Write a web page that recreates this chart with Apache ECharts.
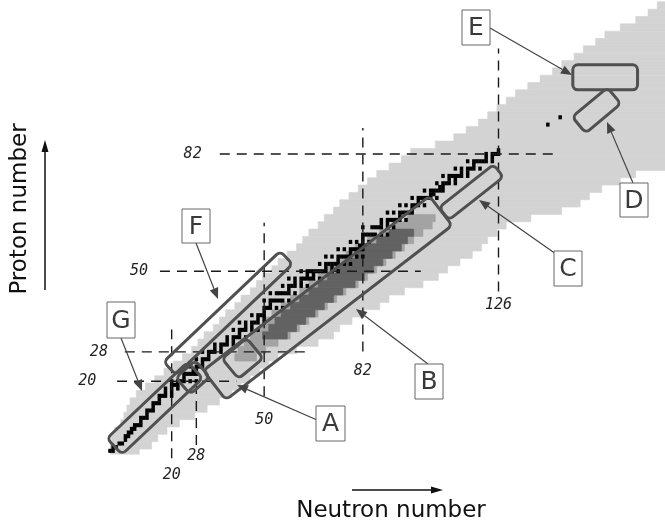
<!DOCTYPE html>
<html>
<head>
<meta charset="utf-8">
<script src="https://cdn.jsdelivr.net/npm/echarts@6/dist/echarts.min.js"></script>
<style>
  html, body { margin: 0; padding: 0; background: #fff; }
  #chart { width: 665px; height: 524px; }
</style>
</head>
<body>
<div id="chart"></div>
<script>
// rows of the chart, two proton numbers per row
const rowZ = [0,2,4,6,8,10,12,14,16,18,20,22,24,26,28,30,32,34,36,38,40,42,44,46,48,50,52,54,56,58,60,
  62,64,66,68,70,72,74,76,78,80,82,84,86,88,90,92,94,96,98,100,102,104,106,108,110,112,114,116,118,120,122];
// light gray: lowest and highest neutron number in each row
const knownNLow = [0,0,1,2,4,5,6,7,9,12,15,18,21,24,27,29,31,34,36,38,41,43,46,48,50,53,55,58,61,63,65,
  68,70,73,75,78,81,84,87,91,95,98,106,112,116,120,123,126,129,132,136,140,144,147,151,154,158,161,166,171,175,178];
const knownNHigh = [9,13,15,18,22,27,31,35,39,42,45,48,51,54,60,67,72,74,78,82,87,90,95,101,106,109,113,117,120,122,125,
  128,136,146,152,155,159,165,170,185,185,185,185,185,185,185,185,185,185,185,185,185,185,185,185,185,185,185,185,185,185,185];

// medium gray band
const midZ = [26,28,30,32,34,36,38,40,42,44,46,48,50,52,54,56,58,60,62,64];
const midNLow = [41,42,44,46,49,51,53,56,59,62,65,68,71,74,77,80,84,88,92,97];
const midNHigh = [47,50,54,58,61,64,67,70,73,76,80,83,86,89,92,95,98,101,104,105];

// dark gray band
const darkZ = [32,34,36,38,40,42,44,46,48,50,52,54,56,58,60];
const darkNLow = [50,52,54,56,59,62,65,68,71,74,77,80,83,87,91];
const darkNHigh = [57,60,63,66,69,72,75,79,82,85,88,91,94,96,98];

// stable nuclei: proton number and its neutron numbers
const stableZ = [1,2,3,4,5,6,7,8,9,10,11,12,13,14,15,16,17,18,19,20,21,22,23,24,25,26,27,28,29,30,
  31,32,33,34,35,36,37,38,39,40,41,42,44,45,46,47,48,49,50,51,52,53,54,55,56,57,58,59,60,
  62,63,64,65,66,67,68,69,70,71,72,73,74,75,76,77,78,79,80,81,82,83,90,92];
const stableN = [[0,1],[1,2],[3,4],[5],[5,6],[6,7],[7,8],[8,9,10],[10],[10,11,12],[12],[12,13,14],[14],
  [14,15,16],[16],[16,17,18,20],[18,20],[18,20,22],[20,21,22],[20,22,23,24,26,28],[24],[24,25,26,27,28],
  [27,28],[26,28,29,30],[30],[28,30,31,32],[32],[30,32,33,34,36],[34,36],[34,36,37,38,40],[38,40],
  [38,40,41,42,44],[42],[40,42,43,44,46,48],[44,46],[42,44,46,47,48,50],[48,50],[46,48,49,50],[50],
  [50,51,52,54,56],[52],[50,52,53,54,55,56,58],[52,54,55,56,57,58,60],[58],[56,58,59,60,62,64],[60,62],
  [58,60,62,63,64,65,66,68],[64,66],[62,64,65,66,67,68,69,70,72,74],[70,72],[68,70,71,72,73,74,76,78],
  [74],[70,72,74,75,76,77,78,80,82],[78],[74,76,78,79,80,81,82],[81,82],[78,80,82,84],[82],
  [82,83,84,85,86,88,90],[82,85,86,87,88,90,92],[88,90],[88,90,91,92,93,94,96],[94],
  [90,92,94,95,96,97,98],[98],[94,96,98,99,100,102],[100],[98,100,101,102,103,104,106],[104,105],
  [102,104,105,106,107,108],[107,108],[106,108,109,110,112],[110,112],[108,110,111,112,113,114,116],
  [114,116],[112,114,116,117,118,120],[118],[116,118,119,120,121,122,124],[122,124],[122,124,125,126],
  [126],[142],[146]];

// magic numbers
const magicN = [20, 28, 50, 82, 126];
const magicNZFrom = [-1, 2.6, 15.9, 28.1, 44.5];
const magicNZTo = [34.1, 18.9, 63.2, 89.1, 110.8];
const magicNLabelZ = [-5.6, -0.4, 9.4, 22.7, 40.7];
const magicZ = [20, 28, 50, 82];
const magicZNFrom = [2.3, 4.8, 16.2, 35.6];
const magicZNTo = [41, 64.6, 100.8, 144.8];
const magicZLabelN = [-7.4, -3.6, 9.4, 26.8];

// regions: end points (N, Z) of each outlined box
const regionNames = ['G', 'F', 'G2', 'A', 'B', 'C', 'D', 'E'];
const regionFrom = [[1.45, 2.2], [19.4, 23.5], [23.7, 18.7], [39.0, 23.4], [33.9, 18.9], [108.3, 65.7], [152.1, 89.9], [150.1, 102.9]];
const regionTo = [[27.6, 23.0], [57.2, 53.7], [30.0, 23.4], [47.0, 29.0], [107.3, 66.5], [126.0, 77.4], [163.5, 97.9], [171.1, 102.9]];
const regionWidth = [22, 18, 22, 26, 37, 16, 21, 25];

const bandRows = (zs, lo, hi) => zs.map((z, i) => [lo[i], hi[i], z]);

const stableCells = [];
stableZ.forEach((z, i) => stableN[i].forEach(n => stableCells.push([n, z])));

function bandItem(color) {
  return function (params, api) {
    const a = api.coord([api.value(0) - 0.5, api.value(2) + 1.5]);
    const b = api.coord([api.value(1) + 0.5, api.value(2) - 0.5]);
    return {
      type: 'rect',
      shape: { x: a[0], y: a[1], width: b[0] - a[0], height: b[1] - a[1] },
      style: { fill: color, stroke: color, lineWidth: 0.6 }
    };
  };
}

var chart = echarts.init(document.getElementById('chart'));

const dashStyle = { stroke: '#1a1a1a', lineWidth: 1.4, lineDash: [10, 7] };
const tickFont = 'italic 15px "DejaVu Sans Mono"';

chart.setOption({
  animation: false,
  grid: { left: 110, top: -1.5, width: 557, height: 456 },
  xAxis: { type: 'value', min: 0, max: 180, show: false },
  yAxis: { type: 'value', min: 0, max: 124, show: false },
  series: [
    { type: 'custom', clip: true, renderItem: bandItem('#d3d3d3'), encode: { x: [0, 1], y: 2 },
      data: bandRows(rowZ, knownNLow, knownNHigh) },
    { type: 'custom', renderItem: bandItem('#a3a3a3'), encode: { x: [0, 1], y: 2 },
      data: bandRows(midZ, midNLow, midNHigh) },
    { type: 'custom', renderItem: bandItem('#626262'), encode: { x: [0, 1], y: 2 },
      data: bandRows(darkZ, darkNLow, darkNHigh) },
    {
      type: 'custom', encode: { x: 0, y: 1 }, data: stableCells,
      renderItem: function (params, api) {
        const c = api.coord([api.value(0), api.value(1)]);
        const s = api.size([1, 1]);
        return { type: 'rect', shape: { x: c[0] - s[0] / 2 - 0.2, y: c[1] - s[1] / 2 - 0.2, width: s[0] + 0.4, height: s[1] + 0.4 },
          style: { fill: '#000' } };
      }
    },
    {
      type: 'custom', clip: false, encode: { x: 0, y: 1 },
      data: magicN.map((n, i) => [n, magicNZFrom[i], magicNZTo[i], magicNLabelZ[i]]),
      renderItem: function (params, api) {
        const n = api.value(0);
        const a = api.coord([n, api.value(1)]);
        const b = api.coord([n, api.value(2)]);
        const t = api.coord([n, api.value(3)]);
        return { type: 'group', children: [
          { type: 'line', shape: { x1: a[0], y1: a[1], x2: b[0], y2: b[1] }, style: dashStyle },
          { type: 'text', x: t[0], y: t[1], style: { text: String(n), font: tickFont, fill: '#222', align: 'center', verticalAlign: 'middle' } }
        ] };
      }
    },
    {
      type: 'custom', clip: false, encode: { x: 1, y: 0 },
      data: magicZ.map((z, i) => [z, magicZNFrom[i], magicZNTo[i], magicZLabelN[i]]),
      renderItem: function (params, api) {
        const z = api.value(0);
        const a = api.coord([api.value(1), z]);
        const b = api.coord([api.value(2), z]);
        const t = api.coord([api.value(3), z]);
        return { type: 'group', children: [
          { type: 'line', shape: { x1: a[0], y1: a[1], x2: b[0], y2: b[1] }, style: dashStyle },
          { type: 'text', x: t[0], y: t[1], style: { text: String(z), font: tickFont, fill: '#222', align: 'center', verticalAlign: 'middle' } }
        ] };
      }
    }
  ]
});

const TOP = 100;

function arrow(x1, y1, x2, y2, color, lw, head, half) {
  const ang = Math.atan2(y2 - y1, x2 - x1);
  const bx = x2 - head * Math.cos(ang), by = y2 - head * Math.sin(ang);
  const px = -Math.sin(ang) * half, py = Math.cos(ang) * half;
  return {
    type: 'group', z: TOP, children: [
      { type: 'line', z: TOP, shape: { x1: x1, y1: y1, x2: bx, y2: by }, style: { stroke: color, lineWidth: lw } },
      { type: 'polygon', z: TOP, shape: { points: [[x2, y2], [bx + px, by + py], [bx - px, by - py]] }, style: { fill: color } }
    ]
  };
}

function letterBox(ch, x, y, w, h) {
  return {
    type: 'group', z: TOP, children: [
      { type: 'rect', z: TOP, shape: { x: x, y: y, width: w, height: h }, style: { fill: '#fff', stroke: '#666', lineWidth: 1 } },
      { type: 'text', z: TOP + 1, x: x + w / 2, y: y + h / 2 + 1,
        style: { text: ch, font: '25px "DejaVu Sans"', fill: '#3a3a3a', align: 'center', verticalAlign: 'middle' } }
    ]
  };
}

const graphics = [];
regionNames.forEach(function (name, i) {
  const p1 = chart.convertToPixel({ gridIndex: 0 }, regionFrom[i]);
  const p2 = chart.convertToPixel({ gridIndex: 0 }, regionTo[i]);
  const len = Math.hypot(p2[0] - p1[0], p2[1] - p1[1]);
  const w = regionWidth[i];
  graphics.push({
    type: 'rect', z: TOP,
    x: (p1[0] + p2[0]) / 2, y: (p1[1] + p2[1]) / 2,
    rotation: Math.atan2(-(p2[1] - p1[1]), p2[0] - p1[0]),
    shape: { x: -len / 2, y: -w / 2, width: len, height: w, r: 5 },
    style: { fill: 'none', stroke: '#505050', lineWidth: 3 }
  });
});

// pointers from the letter boxes
graphics.push(arrow(490, 28, 572, 75, '#444', 1.2, 11, 4.5));
graphics.push(arrow(633, 183, 607, 122, '#444', 1.2, 11, 4.5));
graphics.push(arrow(556, 254, 479, 200, '#444', 1.2, 11, 4.5));
graphics.push(arrow(428, 364, 356, 309, '#444', 1.2, 11, 4.5));
graphics.push(arrow(317, 420, 237, 385, '#444', 1.2, 11, 4.5));
graphics.push(arrow(196, 243, 218, 299, '#444', 1.2, 11, 4.5));
graphics.push(arrow(121, 338, 142, 391, '#444', 1.2, 11, 4.5));

graphics.push(letterBox('E', 462, 10, 28, 35));
graphics.push(letterBox('D', 620, 183, 28, 34));
graphics.push(letterBox('C', 554, 251, 28, 35));
graphics.push(letterBox('B', 415, 364, 28, 35));
graphics.push(letterBox('A', 316, 406, 29, 35));
graphics.push(letterBox('F', 182, 209, 28, 34));
graphics.push(letterBox('G', 107, 302, 28, 36));

// axis titles and their arrows
graphics.push({ type: 'text', z: TOP, x: 20, y: 209, rotation: Math.PI / 2,
  style: { text: 'Proton number', font: '23px "DejaVu Sans"', fill: '#111', align: 'center', verticalAlign: 'middle' } });
graphics.push({ type: 'text', z: TOP, x: 391, y: 511,
  style: { text: 'Neutron number', font: '23px "DejaVu Sans"', fill: '#111', align: 'center', verticalAlign: 'middle' } });
graphics.push(arrow(45, 290, 45, 140, '#111', 1.5, 12, 3.5));
graphics.push(arrow(352, 490, 443, 490, '#111', 1.5, 12, 3.5));

chart.setOption({ graphic: graphics });
</script>
</body>
</html>
